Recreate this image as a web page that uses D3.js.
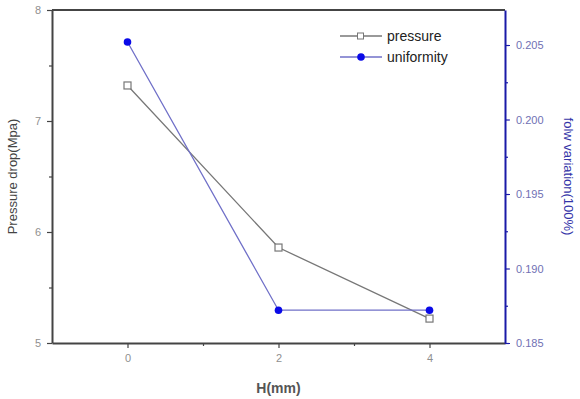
<!DOCTYPE html>
<html><head><meta charset="utf-8">
<script src="https://cdn.jsdelivr.net/npm/d3@7"></script>
<style>body{margin:0;background:#fff;font-family:Arial,"Liberation Sans",sans-serif}</style>
</head><body><svg id="c" width="580" height="399"></svg>
<script>
const hValues = [0, 2, 4];
const pressure = [7.32, 5.86, 5.22];
const uniformity = [0.2052, 0.1872, 0.1872];
const xTicks = [0, 2, 4];
const yLeftTicks = [5, 6, 7, 8];
const yRightTicks = [0.185, 0.190, 0.195, 0.200, 0.205];
const seriesNames = ["pressure", "uniformity"];

const svg = d3.select("#c");
const L = 52, R = 505, T = 10, B = 343;
const x = d3.scaleLinear().domain([-1, 5]).range([L, R]);
const yL = d3.scaleLinear().domain([5, 8]).range([B, T]);
const yR = d3.scaleLinear().domain([0.185, 0.20735]).range([B, T]);

const dark = "#444", tickTxt = "#8f8f8f", blue = "#1a1aa8";

svg.append("line").attr("x1", L).attr("x2", R).attr("y1", T).attr("y2", T).attr("stroke", dark).attr("stroke-width", 2);

function styleAxis(g, col, txtCol) {
  g.select(".domain").attr("stroke", col).attr("stroke-width", 2);
  g.selectAll(".tick line").attr("stroke", col).attr("stroke-width", 1.2);
  g.selectAll(".tick text").attr("fill", txtCol).attr("font-size", 11).attr("font-family", "Arial, Liberation Sans, sans-serif");
}
const gx = svg.append("g").attr("transform", `translate(0,${B})`)
  .call(d3.axisBottom(x).tickValues(xTicks).tickFormat(d3.format("d")).tickSize(5).tickPadding(6).tickSizeOuter(0));
styleAxis(gx, dark, tickTxt);
svg.append("g").attr("transform", `translate(0,${B})`)
  .call(d3.axisBottom(x).tickValues([1, 3]).tickFormat("").tickSize(3).tickSizeOuter(0))
  .call(g => { g.select(".domain").remove(); g.selectAll("line").attr("stroke", dark).attr("stroke-width", 1.2); });
const gyl = svg.append("g").attr("transform", `translate(${L},0)`)
  .call(d3.axisLeft(yL).tickValues(yLeftTicks).tickFormat(d3.format("d")).tickSize(5).tickPadding(6).tickSizeOuter(0));
styleAxis(gyl, dark, tickTxt);
svg.append("g").attr("transform", `translate(${L},0)`)
  .call(d3.axisLeft(yL).tickValues([5.5, 6.5, 7.5]).tickFormat("").tickSize(3).tickSizeOuter(0))
  .call(g => { g.select(".domain").remove(); g.selectAll("line").attr("stroke", dark).attr("stroke-width", 1.2); });
const gyr = svg.append("g").attr("transform", `translate(${R},0)`)
  .call(d3.axisRight(yR).tickValues(yRightTicks).tickFormat(d3.format(".3f")).tickSize(5).tickPadding(6).tickSizeOuter(0));
styleAxis(gyr, blue, "#7070b4");
svg.append("g").attr("transform", `translate(${R},0)`)
  .call(d3.axisRight(yR).tickValues([0.1875, 0.1925, 0.1975, 0.2025]).tickFormat("").tickSize(3).tickSizeOuter(0))
  .call(g => { g.select(".domain").remove(); g.selectAll("line").attr("stroke", blue).attr("stroke-width", 1.2); });

svg.append("text").attr("x", x(2)).attr("y", 393).attr("text-anchor", "middle")
  .attr("font-size", 14).attr("font-weight", "bold").attr("fill", "#555").text("H(mm)");
svg.append("text").attr("transform", `translate(17,${(T + B) / 2}) rotate(-90)`).attr("text-anchor", "middle")
  .attr("font-size", 13).attr("fill", "#444").text("Pressure drop(Mpa)");
svg.append("text").attr("transform", `translate(564,${(T + B) / 2}) rotate(90)`).attr("text-anchor", "middle")
  .attr("font-size", 13).attr("fill", "#3434a8").text("folw variation(100%)");

const lineP = d3.line().x((d, i) => x(hValues[i])).y(d => yL(d));
svg.append("path").datum(pressure).attr("d", lineP).attr("fill", "none").attr("stroke", "#777").attr("stroke-width", 1.3);
svg.selectAll(".pm").data(pressure).enter().append("rect")
  .attr("x", (d, i) => x(hValues[i]) - 3.5).attr("y", d => yL(d) - 3.5).attr("width", 7).attr("height", 7)
  .attr("fill", "#fff").attr("stroke", "#777").attr("stroke-width", 1.2);

const lineU = d3.line().x((d, i) => x(hValues[i])).y(d => yR(d));
svg.append("path").datum(uniformity).attr("d", lineU).attr("fill", "none").attr("stroke", "#7070c8").attr("stroke-width", 1.3);
svg.selectAll(".um").data(uniformity).enter().append("circle")
  .attr("cx", (d, i) => x(hValues[i])).attr("cy", d => yR(d)).attr("r", 3.8).attr("fill", "#0a0ae8");

const lg = svg.append("g");
[0, 1].forEach(i => {
  const yy = 36 + i * 21;
  lg.append("line").attr("x1", 340).attr("x2", 382).attr("y1", yy).attr("y2", yy)
    .attr("stroke", i === 0 ? "#777" : "#7070c8").attr("stroke-width", 1.3);
  if (i === 0) lg.append("rect").attr("x", 357.5).attr("y", yy - 3).attr("width", 6).attr("height", 6).attr("fill", "#fff").attr("stroke", "#777");
  else lg.append("circle").attr("cx", 361).attr("cy", yy).attr("r", 3.8).attr("fill", "#0a0ae8");
  lg.append("text").attr("x", 387).attr("y", yy + 5).attr("font-size", 14).attr("fill", "#222").text(seriesNames[i]);
});
</script></body></html>
